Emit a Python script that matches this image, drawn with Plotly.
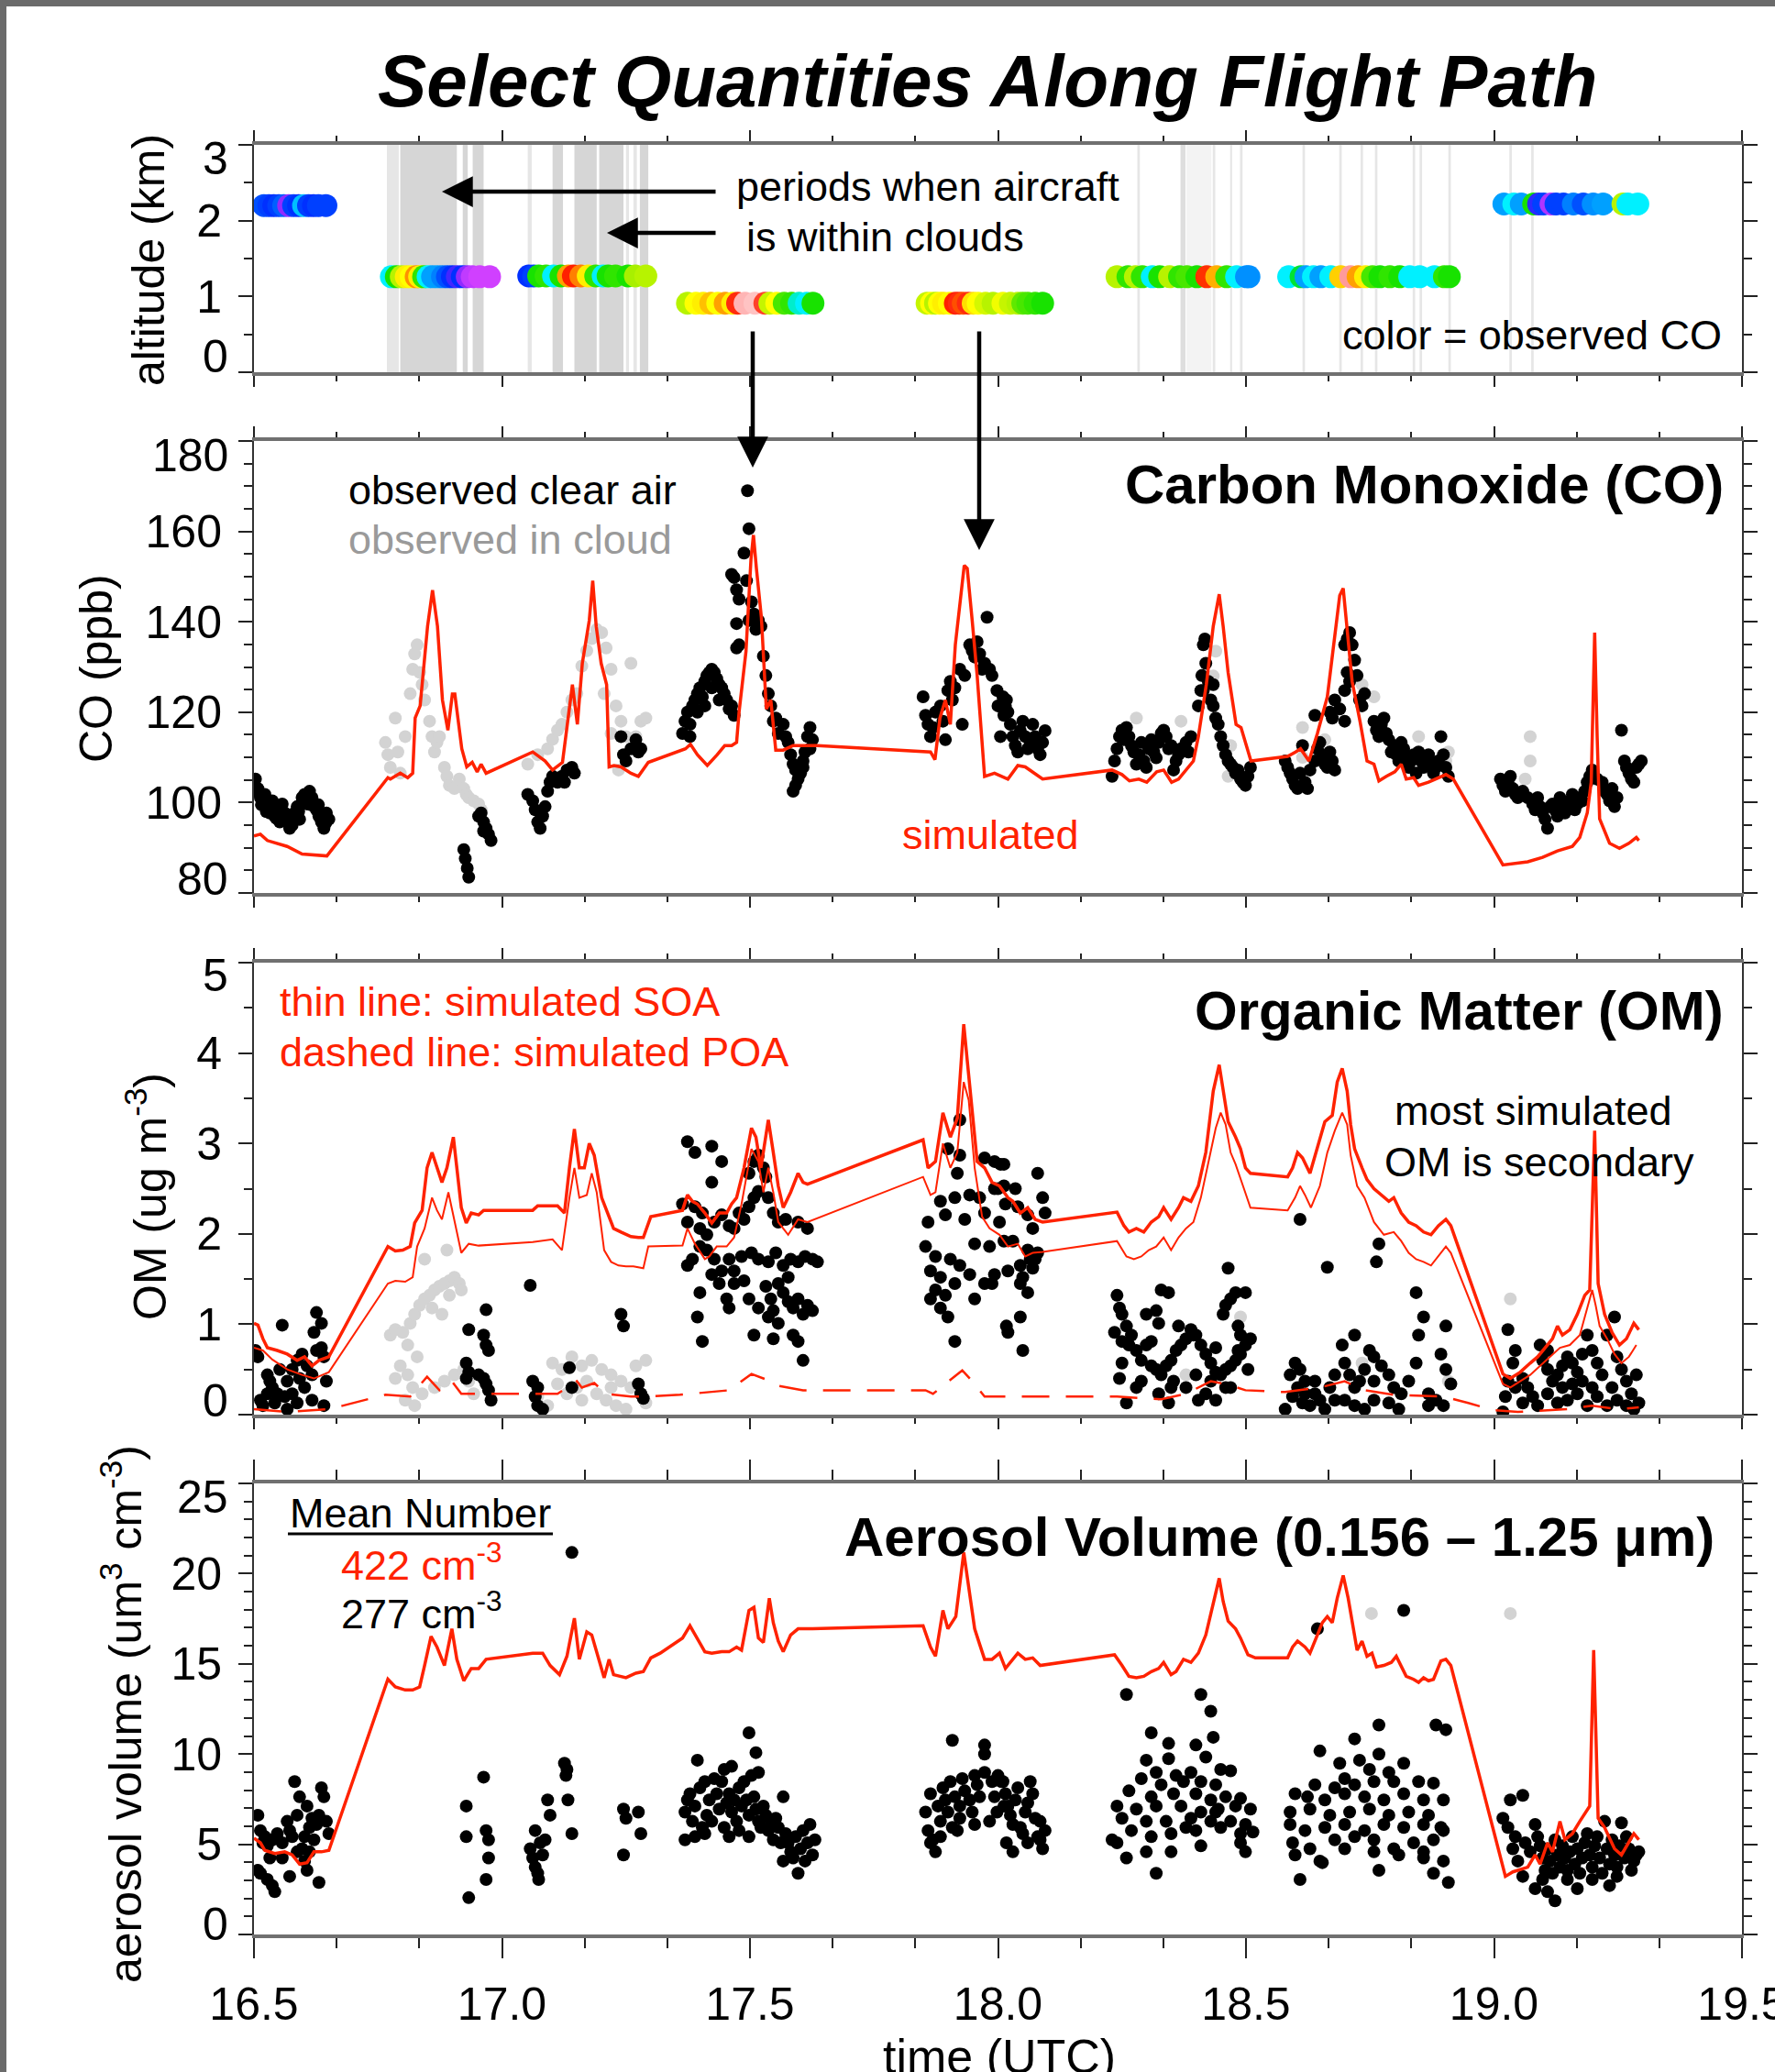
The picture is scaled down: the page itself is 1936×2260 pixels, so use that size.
import plotly.graph_objects as go

FIG_W, FIG_H = 1936, 2260
RED = '#ff2200'
GREY_PT = '#d3d3d3'
FONT = 'Liberation Sans, Arial, Helvetica, sans-serif'

# ---------------- DATA ----------------
# cloud periods (UTC hours) and fraction of the period spent in cloud
cloud_start = [16.768, 16.795, 16.921, 16.941, 17.052, 17.102, 17.146, 17.196, 17.250, 17.265, 17.278,
               18.281, 18.368, 18.380, 18.433, 18.468, 18.488, 18.614, 18.688, 18.731, 18.760, 18.836,
               18.850, 18.908, 19.031, 19.075]
cloud_end = [16.792, 16.909, 16.931, 16.963, 17.060, 17.123, 17.191, 17.245, 17.256, 17.272, 17.295,
             18.286, 18.378, 18.430, 18.438, 18.472, 18.493, 18.619, 18.693, 18.736, 18.765, 18.841,
             18.855, 18.913, 19.036, 19.080]
cloud_frac = [0.6, 1.0, 1.0, 1.0, 0.6, 1.0, 1.0, 1.0, 0.6, 0.6, 1.0,
              0.6, 0.8, 0.3, 0.6, 0.6, 0.6, 0.6, 0.6, 0.6, 0.6, 0.6,
              0.6, 0.6, 0.6, 0.6]

# flight track: (time, altitude km, observed CO ppb)
alt_obs = [
    (16.520, 2.2, 97), (16.530, 2.2, 96), (16.540, 2.2, 95), (16.550, 2.2, 96), (16.560, 2.2, 98), (16.570, 2.2, 88),
    (16.580, 2.2, 96), (16.590, 2.2, 95), (16.600, 2.2, 104), (16.610, 2.2, 96), (16.620, 2.2, 95), (16.630, 2.2, 96),
    (16.645, 2.2, 96),
    (16.777, 1.26, 107), (16.787, 1.26, 113), (16.797, 1.26, 120), (16.807, 1.26, 126), (16.817, 1.26, 125),
    (16.827, 1.26, 132), (16.834, 1.26, 126), (16.842, 1.26, 114), (16.851, 1.26, 107), (16.860, 1.26, 102),
    (16.870, 1.26, 102), (16.880, 1.26, 100), (16.890, 1.26, 97), (16.900, 1.26, 95), (16.910, 1.26, 92),
    (16.920, 1.26, 95), (16.930, 1.26, 88), (16.940, 1.26, 85), (16.955, 1.26, 84), (16.975, 1.26, 84),
    (17.054, 1.27, 95), (17.064, 1.27, 96), (17.074, 1.27, 113), (17.089, 1.27, 114), (17.104, 1.27, 107),
    (17.119, 1.27, 113), (17.134, 1.27, 131), (17.144, 1.27, 139), (17.159, 1.27, 133), (17.174, 1.27, 126),
    (17.189, 1.27, 114), (17.204, 1.27, 107), (17.214, 1.27, 113), (17.229, 1.27, 114), (17.254, 1.27, 113),
    (17.269, 1.27, 119), (17.290, 1.27, 120),
    (17.374, 0.91, 120), (17.391, 0.91, 125), (17.406, 0.91, 126), (17.421, 0.91, 129), (17.435, 0.91, 125),
    (17.450, 0.91, 131), (17.465, 0.91, 126), (17.475, 0.91, 140), (17.490, 0.91, 160), (17.510, 0.91, 165),
    (17.530, 0.91, 142), (17.540, 0.91, 121), (17.554, 0.91, 125), (17.569, 0.91, 115), (17.584, 0.91, 114),
    (17.599, 0.91, 108), (17.614, 0.91, 107), (17.627, 0.91, 113),
    (17.857, 0.91, 121), (17.866, 0.91, 125), (17.874, 0.91, 120), (17.882, 0.91, 125), (17.890, 0.91, 126),
    (17.902, 0.91, 125), (17.914, 0.91, 139), (17.922, 0.91, 140), (17.930, 0.91, 136), (17.940, 0.91, 140),
    (17.950, 0.91, 127), (17.960, 0.91, 125), (17.975, 0.91, 122), (17.990, 0.91, 120), (18.010, 0.91, 124),
    (18.025, 0.91, 121), (18.040, 0.91, 120), (18.050, 0.91, 116), (18.060, 0.91, 115), (18.075, 0.91, 114),
    (18.090, 0.91, 113),
    (18.240, 1.26, 120), (18.262, 1.26, 114), (18.277, 1.26, 120), (18.291, 1.26, 114), (18.311, 1.26, 107),
    (18.326, 1.26, 113), (18.346, 1.26, 120), (18.366, 1.26, 114), (18.381, 1.26, 115), (18.401, 1.26, 113),
    (18.421, 1.26, 138), (18.441, 1.26, 130), (18.461, 1.26, 114), (18.481, 1.26, 107), (18.501, 1.26, 101),
    (18.506, 1.26, 101),
    (18.586, 1.26, 107), (18.611, 1.26, 111), (18.621, 1.26, 102), (18.636, 1.26, 107), (18.651, 1.26, 102),
    (18.671, 1.26, 107), (18.691, 1.26, 128), (18.711, 1.26, 150), (18.726, 1.26, 131), (18.741, 1.26, 126),
    (18.755, 1.26, 115), (18.770, 1.26, 113), (18.790, 1.26, 114), (18.810, 1.26, 113), (18.830, 1.26, 107),
    (18.850, 1.26, 107), (18.880, 1.26, 107), (18.900, 1.26, 114), (18.910, 1.26, 113),
    (19.020, 2.22, 102), (19.040, 2.22, 107), (19.055, 2.22, 102), (19.080, 2.22, 113), (19.090, 2.22, 93),
    (19.100, 2.22, 96), (19.115, 2.22, 86), (19.125, 2.22, 96), (19.140, 2.22, 96), (19.160, 2.22, 100),
    (19.180, 2.22, 97), (19.200, 2.22, 101), (19.220, 2.22, 102), (19.260, 2.22, 120), (19.270, 2.22, 107),
    (19.290, 2.22, 107),
]

# CO observed in clear air (time, ppb)
co_obs = [
    (16.503, 105.2), (16.505, 102.5), (16.508, 103.1), (16.513, 101.1), (16.515, 99.5), (16.518, 100.1),
    (16.522, 101.8), (16.525, 98.0), (16.527, 99.1), (16.532, 97.7), (16.537, 100.4), (16.542, 97.0),
    (16.545, 96.5), (16.547, 98.4), (16.552, 95.7), (16.557, 99.7), (16.560, 96.0), (16.562, 97.7),
    (16.567, 96.3), (16.572, 94.3), (16.577, 95.0), (16.582, 97.7), (16.587, 99.1), (16.590, 98.0),
    (16.592, 96.3), (16.597, 101.1), (16.602, 101.8), (16.605, 100.5), (16.607, 99.7), (16.612, 102.5),
    (16.615, 99.5), (16.617, 101.1), (16.622, 99.1), (16.626, 98.4), (16.630, 99.5), (16.631, 97.0),
    (16.636, 95.7), (16.641, 94.3), (16.645, 95.5), (16.646, 97.7), (16.651, 96.3),
    (16.923, 89.6), (16.926, 87.6), (16.930, 85.5), (16.933, 83.5), (16.953, 97.0), (16.958, 97.7),
    (16.963, 95.7), (16.968, 94.3), (16.973, 93.0), (16.978, 91.6), (16.963, 93.7),
    (17.052, 101.8), (17.062, 100.4), (17.067, 98.4), (17.072, 95.7), (17.077, 94.3), (17.082, 97.0),
    (17.087, 99.1), (17.092, 102.5), (17.097, 104.5), (17.102, 105.8), (17.112, 104.5), (17.121, 105.8),
    (17.126, 104.5), (17.131, 107.2), (17.141, 107.8), (17.146, 106.5),
    (17.240, 114.6), (17.245, 110.6), (17.250, 109.2), (17.260, 111.9), (17.270, 113.9), (17.275, 111.2),
    (17.280, 111.9),
    (17.364, 115.3), (17.369, 118.0), (17.374, 120.0), (17.379, 117.3), (17.384, 121.4), (17.389, 122.7),
    (17.394, 124.1), (17.399, 125.4), (17.404, 123.4), (17.409, 126.8), (17.413, 128.1), (17.418, 128.8),
    (17.423, 129.5), (17.428, 128.8), (17.433, 127.4), (17.438, 126.1), (17.443, 125.4), (17.448, 124.1),
    (17.453, 122.7), (17.458, 120.7), (17.463, 121.4), (17.468, 119.3), (17.379, 114.6), (17.394, 120.0),
    (17.409, 121.4), (17.423, 125.4), (17.438, 122.7),
    (17.463, 150.5), (17.468, 149.8), (17.473, 147.1), (17.478, 145.0), (17.473, 139.6), (17.478, 134.9),
    (17.488, 155.2), (17.493, 149.1), (17.498, 160.6), (17.495, 169.0), (17.503, 144.4), (17.508, 141.7),
    (17.512, 138.3), (17.517, 140.3), (17.522, 139.0), (17.473, 134.2), (17.498, 140.3),
    (17.527, 132.4), (17.532, 128.1), (17.537, 124.1), (17.542, 121.4), (17.547, 118.0), (17.552, 118.7),
    (17.557, 115.3), (17.567, 117.3), (17.572, 114.6), (17.577, 113.3), (17.582, 110.6), (17.587, 108.5),
    (17.592, 107.2), (17.597, 105.2), (17.602, 106.5), (17.607, 107.8), (17.611, 111.2), (17.616, 114.6),
    (17.621, 116.6), (17.626, 113.9), (17.587, 102.5), (17.592, 103.8), (17.607, 109.2), (17.621, 111.9),
    (17.849, 123.4), (17.854, 119.3), (17.859, 117.3), (17.864, 114.6), (17.869, 116.6), (17.874, 120.0),
    (17.884, 121.4), (17.889, 118.0), (17.894, 113.9), (17.899, 124.8), (17.904, 126.8), (17.908, 122.7),
    (17.913, 125.4), (17.923, 129.5), (17.928, 117.3), (17.933, 128.1), (17.943, 134.9), (17.948, 133.6),
    (17.953, 132.2), (17.958, 135.6), (17.963, 132.9), (17.968, 129.5), (17.973, 130.8), (17.978, 141.0),
    (17.983, 129.5), (17.988, 128.1), (17.998, 124.8), (18.003, 121.4), (18.012, 119.3), (18.017, 122.7),
    (18.000, 121.4), (18.010, 123.4), (18.015, 121.4), (18.020, 120.0), (18.025, 117.3), (18.030, 114.6),
    (18.035, 112.6), (18.040, 111.2), (18.045, 115.9), (18.050, 118.0), (18.055, 114.6), (18.060, 111.9),
    (18.065, 113.3), (18.070, 117.3), (18.075, 114.6), (18.080, 111.9), (18.085, 110.6), (18.090, 113.3),
    (18.095, 115.9), (18.005, 114.6),
    (18.230, 105.8), (18.235, 109.2), (18.240, 111.9), (18.245, 114.6), (18.250, 116.0), (18.254, 113.9),
    (18.259, 116.6), (18.264, 114.6), (18.269, 112.6), (18.274, 111.2), (18.279, 108.5), (18.284, 110.6),
    (18.289, 113.3), (18.294, 109.2), (18.299, 107.8), (18.304, 111.9), (18.309, 113.9), (18.314, 111.2),
    (18.319, 109.9), (18.324, 113.3), (18.329, 115.3), (18.334, 116.0), (18.339, 114.6), (18.344, 111.9),
    (18.349, 112.6), (18.354, 107.2), (18.359, 109.2), (18.364, 110.6), (18.369, 111.9), (18.379, 113.3),
    (18.384, 111.2), (18.389, 114.6),
    (18.404, 121.4), (18.409, 124.8), (18.411, 128.1), (18.414, 134.9), (18.417, 136.2), (18.419, 130.8),
    (18.424, 126.8), (18.429, 122.7), (18.434, 121.4), (18.439, 118.7), (18.444, 117.3), (18.449, 114.6),
    (18.454, 112.6), (18.459, 110.6), (18.464, 109.2), (18.469, 108.5), (18.474, 107.8), (18.479, 106.5),
    (18.484, 107.2), (18.489, 105.2), (18.494, 104.5), (18.499, 103.8), (18.504, 105.8), (18.509, 107.8),
    (18.414, 124.8), (18.434, 126.1),
    (18.579, 109.2), (18.584, 107.8), (18.589, 106.5), (18.594, 105.2), (18.599, 103.8), (18.604, 103.1),
    (18.609, 106.5), (18.614, 112.6), (18.619, 104.5), (18.624, 103.1), (18.629, 107.2), (18.639, 109.2),
    (18.644, 111.9), (18.649, 113.3), (18.654, 110.6), (18.659, 108.5), (18.664, 107.8), (18.669, 111.2),
    (18.674, 109.2), (18.679, 107.2), (18.639, 119.3), (18.669, 120.0), (18.674, 118.7), (18.679, 122.7),
    (18.699, 134.9), (18.704, 136.2), (18.709, 137.6), (18.714, 134.9), (18.719, 131.5), (18.704, 128.8),
    (18.709, 126.8), (18.699, 124.8), (18.724, 128.1), (18.729, 122.7), (18.734, 121.4), (18.739, 124.1),
    (18.699, 118.0), (18.689, 120.7),
    (18.758, 118.0), (18.763, 116.0), (18.768, 114.6), (18.773, 117.3), (18.778, 118.7), (18.783, 115.3),
    (18.788, 113.9), (18.793, 111.2), (18.798, 112.6), (18.803, 110.6), (18.808, 109.2), (18.813, 113.3),
    (18.818, 111.9), (18.823, 109.9), (18.828, 107.8), (18.833, 109.2), (18.838, 110.6), (18.843, 106.5),
    (18.848, 111.2), (18.853, 109.2), (18.858, 107.8), (18.863, 109.9), (18.868, 110.6), (18.873, 108.5),
    (18.878, 106.5), (18.883, 107.8), (18.888, 109.2), (18.893, 114.6), (18.898, 110.6), (18.903, 107.8),
    (18.908, 105.8),
    (19.013, 105.2), (19.018, 103.8), (19.023, 102.5), (19.028, 104.5), (19.033, 105.8), (19.038, 103.1),
    (19.043, 101.8), (19.048, 101.1), (19.053, 101.8), (19.058, 102.5), (19.068, 101.1), (19.078, 99.7),
    (19.083, 98.4), (19.088, 101.1), (19.093, 99.1), (19.098, 97.7), (19.103, 96.3), (19.108, 94.3),
    (19.113, 99.1), (19.118, 99.7), (19.123, 98.4), (19.128, 97.0), (19.133, 101.1), (19.138, 99.7),
    (19.143, 97.7), (19.148, 99.1), (19.153, 100.4), (19.158, 101.8), (19.163, 98.4), (19.168, 99.7),
    (19.173, 101.1), (19.178, 100.4), (19.183, 102.5), (19.188, 104.5), (19.193, 105.8), (19.198, 107.2),
    (19.208, 105.2), (19.218, 104.5), (19.223, 102.5), (19.228, 101.8), (19.233, 100.4), (19.238, 103.1),
    (19.243, 99.1), (19.248, 101.1), (19.257, 116.0), (19.263, 109.2), (19.267, 107.8), (19.272, 106.5),
    (19.277, 105.2), (19.282, 104.5), (19.287, 107.8), (19.292, 108.5), (19.297, 109.2),
]

# CO observed in cloud
co_cld = [
    (16.765, 113.3), (16.770, 110.6), (16.775, 107.8), (16.785, 118.7), (16.790, 111.2), (16.795, 106.5),
    (16.805, 114.6), (16.815, 124.1), (16.820, 129.5), (16.824, 132.9), (16.829, 134.9), (16.834, 128.8),
    (16.839, 126.1), (16.844, 122.7), (16.854, 118.0), (16.859, 114.6), (16.864, 111.2), (16.869, 113.3),
    (16.874, 114.6), (16.884, 107.8), (16.889, 105.8), (16.894, 103.8), (16.904, 103.1), (16.914, 105.2),
    (16.923, 103.1), (16.928, 101.8), (16.933, 101.1), (16.943, 100.4), (16.953, 99.7), (16.958, 98.4),
    (17.052, 108.5), (17.072, 110.6), (17.092, 111.9), (17.102, 114.0), (17.112, 116.0), (17.121, 117.3),
    (17.131, 120.0), (17.141, 122.7), (17.151, 124.1), (17.161, 130.2), (17.171, 133.6), (17.181, 136.3),
    (17.191, 138.3), (17.201, 137.6), (17.210, 134.2), (17.220, 129.5), (17.230, 121.4), (17.240, 118.0),
    (17.250, 114.6), (17.260, 130.8), (17.270, 114.6), (17.280, 118.0), (17.290, 118.7), (17.206, 124.1),
    (17.220, 115.3), (17.235, 107.2),
    (18.279, 118.7), (18.369, 118.0), (18.614, 116.6), (18.659, 113.9), (18.469, 112.6), (18.464, 105.8),
    (19.073, 114.6), (19.073, 109.2), (19.063, 105.2), (18.758, 123.4), (18.734, 126.1), (18.848, 114.6),
    (18.908, 111.2), (18.903, 109.2), (18.614, 110.0), (18.439, 133.5), (18.434, 128.0),
]

# CO simulated
co_sim = [
    (16.500, 92.6), (16.513, 93.0), (16.527, 91.6), (16.567, 90.3), (16.597, 88.6), (16.647, 88.2),
    (16.770, 105.5), (16.775, 105.2), (16.795, 106.5), (16.810, 105.5), (16.820, 106.5), (16.825, 118.7),
    (16.835, 121.4), (16.850, 139.0), (16.860, 147.0), (16.870, 139.0), (16.880, 122.7), (16.891, 116.0),
    (16.900, 124.0), (16.905, 124.0), (16.919, 111.9), (16.929, 107.9), (16.940, 108.9), (16.950, 106.8),
    (16.958, 108.5), (16.968, 106.5),
    (17.062, 111.2), (17.087, 109.2), (17.102, 107.2), (17.122, 108.9), (17.142, 126.1), (17.152, 117.3),
    (17.162, 130.8), (17.176, 140.3), (17.183, 149.1), (17.190, 139.0), (17.200, 130.8), (17.211, 126.1),
    (17.216, 107.9), (17.226, 108.2), (17.240, 107.9), (17.260, 106.5), (17.275, 105.8), (17.295, 108.9),
    (17.370, 111.9), (17.380, 112.9), (17.394, 110.6), (17.414, 108.2), (17.434, 110.6), (17.449, 112.6),
    (17.463, 112.6), (17.473, 113.3), (17.478, 120.0), (17.492, 133.5), (17.502, 153.8), (17.507, 159.2),
    (17.513, 151.8), (17.523, 141.0), (17.533, 120.7), (17.542, 122.7), (17.552, 111.6), (17.567, 111.6),
    (17.587, 112.6), (17.636, 112.6),
    (17.864, 111.2), (17.873, 109.5), (17.883, 118.7), (17.894, 122.7), (17.904, 117.3), (17.914, 134.9),
    (17.932, 152.5), (17.938, 151.8), (17.948, 140.3), (17.958, 128.1), (17.973, 105.8), (17.993, 106.5),
    (18.020, 105.2), (18.040, 108.2), (18.055, 107.9), (18.070, 106.8), (18.090, 105.2),
    (18.230, 107.2), (18.250, 106.2), (18.265, 104.8), (18.284, 105.2), (18.300, 104.5), (18.320, 106.8),
    (18.334, 107.2), (18.350, 104.5), (18.364, 105.2), (18.380, 107.2), (18.394, 109.2), (18.404, 114.6),
    (18.420, 126.1), (18.434, 139.0), (18.446, 146.1), (18.454, 139.0), (18.464, 128.8), (18.480, 117.3),
    (18.490, 116.6), (18.510, 109.2),
    (18.584, 110.2), (18.600, 111.2), (18.610, 111.9), (18.627, 109.2), (18.644, 115.3), (18.664, 123.4),
    (18.679, 136.3), (18.689, 145.8), (18.696, 147.4), (18.704, 139.0), (18.714, 126.8), (18.730, 117.9),
    (18.744, 109.2), (18.758, 108.5), (18.768, 104.8), (18.783, 105.8), (18.800, 106.8), (18.813, 108.5),
    (18.823, 105.2), (18.838, 105.5), (18.848, 103.8), (18.868, 104.5), (18.888, 105.5), (18.903, 106.2),
    (18.918, 105.2),
    (19.018, 86.2), (19.068, 86.9), (19.098, 87.9), (19.128, 89.3), (19.158, 90.3), (19.173, 92.3),
    (19.188, 97.7), (19.196, 104.5), (19.203, 137.6), (19.208, 114.6), (19.213, 96.4), (19.233, 91.0),
    (19.253, 89.9), (19.272, 91.0), (19.287, 92.3), (19.292, 91.6),
]

# OM observed in clear air (ug m-3)
om_obs = [
    (16.557, 0.99), (16.626, 1.13), (16.636, 1.01), (16.621, 0.91), (16.508, 0.64), (16.527, 0.44),
    (16.532, 0.37), (16.537, 0.30), (16.547, 0.23), (16.513, 0.16), (16.518, 0.10), (16.542, 0.13),
    (16.562, 0.20), (16.567, 0.37), (16.577, 0.50), (16.587, 0.60), (16.597, 0.67), (16.607, 0.54),
    (16.617, 0.44), (16.626, 0.71), (16.636, 0.74), (16.641, 0.64), (16.646, 0.37), (16.641, 0.10),
    (16.587, 0.13), (16.567, 0.06), (16.602, 0.30), (16.617, 0.16), (16.527, 0.23), (16.552, 0.50),
    (16.577, 0.23), (16.592, 0.40), (16.503, 0.71),
    (16.928, 0.57), (16.933, 0.94), (16.928, 0.40), (16.933, 0.47), (16.953, 0.44), (16.963, 0.88),
    (16.968, 1.16), (16.968, 0.77), (16.973, 0.71), (16.963, 0.40), (16.968, 0.34), (16.973, 0.27),
    (16.978, 0.16), (17.057, 1.43), (17.062, 0.37), (17.072, 0.30), (17.067, 0.20), (17.072, 0.10),
    (17.082, 0.06), (17.136, 0.52), (17.141, 0.30), (17.240, 1.11), (17.245, 0.98), (17.275, 0.34),
    (17.280, 0.23), (17.285, 0.18),
    (17.374, 3.02), (17.389, 2.90), (17.423, 2.97), (17.443, 2.80), (17.423, 2.57), (17.364, 2.33),
    (17.389, 2.30), (17.404, 2.23), (17.374, 2.13), (17.399, 2.06), (17.413, 1.99), (17.428, 2.13),
    (17.443, 2.21), (17.458, 2.09), (17.478, 2.23), (17.468, 2.06), (17.488, 2.16), (17.498, 2.30),
    (17.508, 2.40), (17.517, 2.47), (17.532, 2.63), (17.537, 2.40), (17.547, 2.23), (17.557, 2.13),
    (17.572, 2.16), (17.597, 2.13), (17.616, 2.06), (17.508, 2.80), (17.517, 2.87), (17.527, 2.73),
    (17.498, 2.67), (17.374, 1.65), (17.384, 1.72), (17.399, 1.86), (17.413, 1.82), (17.428, 1.72),
    (17.443, 1.59), (17.458, 1.72), (17.468, 1.59), (17.483, 1.75), (17.503, 1.79), (17.517, 1.72),
    (17.537, 1.69), (17.552, 1.79), (17.567, 1.65), (17.582, 1.72), (17.597, 1.69), (17.611, 1.75),
    (17.626, 1.72), (17.636, 1.69), (17.399, 1.35), (17.394, 1.08), (17.404, 0.81), (17.423, 1.55),
    (17.438, 1.45), (17.453, 1.28), (17.458, 1.18), (17.468, 1.45), (17.488, 1.48), (17.498, 1.28),
    (17.508, 0.88), (17.532, 1.42), (17.542, 1.28), (17.547, 1.15), (17.557, 1.45), (17.567, 1.35),
    (17.577, 1.25), (17.587, 1.18), (17.597, 1.28), (17.607, 1.11), (17.616, 1.21), (17.626, 1.15),
    (17.537, 1.08), (17.557, 1.01), (17.587, 0.88), (17.597, 0.81), (17.607, 0.60), (17.547, 0.84),
    (17.577, 1.52), (17.517, 1.18),
    (17.923, 3.26), (17.899, 2.94), (17.923, 2.87), (17.973, 2.84), (17.993, 2.80), (18.012, 2.77),
    (17.918, 2.67), (17.884, 2.36), (17.913, 2.40), (17.943, 2.43), (17.963, 2.40), (17.993, 2.50),
    (18.012, 2.53), (17.859, 2.13), (17.894, 2.21), (17.933, 2.16), (17.973, 2.23), (18.003, 2.13),
    (17.854, 1.86), (17.874, 1.75), (17.904, 1.72), (17.923, 1.65), (17.953, 1.89), (17.983, 1.86),
    (18.012, 1.92), (17.864, 1.59), (17.884, 1.52), (17.913, 1.45), (17.943, 1.55), (17.973, 1.45),
    (17.993, 1.55), (17.874, 1.38), (17.894, 1.32), (17.864, 1.28), (17.884, 1.18), (17.899, 1.08),
    (17.913, 0.81), (18.017, 0.98), (17.953, 1.28), (17.988, 1.45),
    (18.005, 2.77), (18.000, 2.50), (18.035, 2.50), (18.015, 2.33), (18.040, 2.30), (18.080, 2.67),
    (18.090, 2.40), (18.095, 2.23), (18.060, 2.21), (18.070, 2.06), (18.030, 1.92), (18.060, 1.82),
    (18.065, 1.72), (18.045, 1.65), (18.070, 1.62), (18.020, 1.59), (18.050, 1.52), (18.045, 1.45),
    (18.060, 1.35), (18.045, 1.08), (18.020, 0.91), (18.050, 0.71), (18.075, 1.72), (18.080, 1.79),
    (18.464, 1.62), (18.609, 2.16), (18.664, 1.63), (18.768, 1.89), (18.763, 1.69), (18.843, 1.35),
    (18.858, 1.08), (18.903, 0.98), (18.848, 0.88),
    (18.240, 1.32), (18.245, 1.18), (18.250, 1.11), (18.259, 0.98), (18.235, 0.91), (18.250, 0.81),
    (18.264, 0.77), (18.279, 0.71), (18.289, 0.60), (18.299, 0.77), (18.309, 0.54), (18.319, 0.50),
    (18.329, 0.44), (18.339, 0.54), (18.349, 0.60), (18.359, 0.71), (18.369, 0.77), (18.379, 0.84),
    (18.389, 0.94), (18.399, 0.88), (18.409, 0.77), (18.419, 0.67), (18.429, 0.57), (18.439, 0.47),
    (18.449, 0.44), (18.459, 0.50), (18.469, 0.54), (18.479, 0.60), (18.489, 0.67), (18.499, 0.77),
    (18.509, 0.84), (18.329, 1.38), (18.344, 1.35), (18.299, 1.11), (18.319, 1.15), (18.324, 1.01),
    (18.364, 0.98), (18.394, 0.88), (18.459, 1.21), (18.469, 1.28), (18.479, 1.35), (18.499, 1.35),
    (18.454, 1.11), (18.484, 0.98), (18.489, 0.88), (18.504, 0.50), (18.245, 0.40), (18.259, 0.13),
    (18.279, 0.30), (18.344, 0.13), (18.379, 0.30), (18.404, 0.16), (18.439, 0.16), (18.469, 0.30),
    (18.250, 0.57), (18.289, 0.37), (18.324, 0.23), (18.354, 0.37), (18.399, 0.44), (18.429, 0.37),
    (18.459, 0.30), (18.419, 0.23), (18.269, 0.88), (18.439, 0.74), (18.484, 0.71), (18.349, 0.30),
    (18.309, 0.81),
    (18.599, 0.57), (18.609, 0.50), (18.589, 0.44), (18.619, 0.37), (18.604, 0.30), (18.594, 0.20),
    (18.614, 0.13), (18.629, 0.10), (18.639, 0.23), (18.649, 0.16), (18.659, 0.06), (18.679, 0.44),
    (18.694, 0.77), (18.719, 0.88), (18.699, 0.57), (18.709, 0.44), (18.729, 0.37), (18.739, 0.50),
    (18.749, 0.71), (18.758, 0.64), (18.773, 0.54), (18.788, 0.44), (18.798, 0.30), (18.813, 0.23),
    (18.828, 0.37), (18.843, 0.57), (18.868, 0.23), (18.883, 0.16), (18.893, 0.67), (18.903, 0.50),
    (18.913, 0.34), (18.619, 0.23), (18.669, 0.30), (18.699, 0.16), (18.719, 0.10), (18.758, 0.16),
    (18.788, 0.13), (18.808, 0.06), (18.868, 0.10), (18.898, 0.10), (18.579, 0.06), (18.639, 0.37),
    (18.758, 0.37), (18.719, 0.30), (18.679, 0.16), (18.739, 0.06),
    (19.028, 0.94), (19.043, 0.71), (19.038, 0.57), (19.028, 0.37), (19.043, 0.30), (19.023, 0.20),
    (19.058, 0.13), (19.078, 0.20), (19.093, 0.77), (19.098, 0.60), (19.108, 0.50), (19.118, 0.37),
    (19.128, 0.44), (19.138, 0.54), (19.148, 0.64), (19.158, 0.57), (19.168, 0.47), (19.178, 0.37),
    (19.188, 0.88), (19.198, 0.71), (19.208, 0.57), (19.218, 0.44), (19.228, 0.88), (19.243, 1.08),
    (19.248, 0.64), (19.257, 0.50), (19.267, 0.37), (19.277, 0.23), (19.287, 0.44), (19.292, 0.13),
    (19.068, 0.30), (19.088, 0.10), (19.108, 0.23), (19.128, 0.13), (19.148, 0.16), (19.168, 0.23),
    (19.188, 0.10), (19.208, 0.20), (19.228, 0.10), (19.248, 0.16), (19.267, 0.10), (19.282, 0.06),
    (19.138, 0.30), (19.198, 0.30), (19.238, 0.30), (19.158, 0.34), (19.058, 0.40), (19.108, 0.71),
    (19.018, 0.03), (19.178, 0.67),
]

# OM observed in cloud
om_cld = [
    (16.775, 0.88), (16.785, 0.94), (16.800, 0.91), (16.815, 1.01), (16.824, 1.11), (16.834, 1.21),
    (16.844, 1.28), (16.854, 1.32), (16.864, 1.38), (16.874, 1.42), (16.884, 1.45), (16.894, 1.48),
    (16.904, 1.52), (16.914, 1.45), (16.918, 1.38), (16.844, 1.72), (16.889, 1.82), (16.795, 0.54),
    (16.810, 0.44), (16.785, 0.40), (16.820, 0.30), (16.805, 0.16), (16.824, 0.10), (16.839, 0.23),
    (16.864, 0.30), (16.884, 0.37), (16.904, 0.44), (16.923, 0.50), (16.933, 0.37), (16.943, 0.23),
    (16.859, 1.18), (16.879, 1.11), (16.810, 0.77), (16.829, 0.64), (16.894, 1.32),
    (17.102, 0.57), (17.121, 0.50), (17.141, 0.64), (17.161, 0.54), (17.181, 0.60), (17.201, 0.50),
    (17.220, 0.44), (17.240, 0.37), (17.260, 0.30), (17.280, 0.23), (17.290, 0.13), (17.112, 0.34),
    (17.131, 0.23), (17.151, 0.30), (17.171, 0.37), (17.191, 0.23), (17.210, 0.16), (17.230, 0.10),
    (17.250, 0.06), (17.072, 0.20), (17.092, 0.10), (17.161, 0.16), (17.220, 0.30), (17.270, 0.54),
    (17.290, 0.60),
    (19.033, 1.28), (18.489, 1.08), (18.379, 0.44), (18.734, 0.57), (18.908, 0.37),
]

# OM simulated total
om_sim = [
    (16.500, 1.01), (16.508, 0.99), (16.518, 0.84), (16.527, 0.74), (16.547, 0.71), (16.567, 0.67),
    (16.587, 0.60), (16.602, 0.64), (16.617, 0.54), (16.631, 0.60), (16.651, 0.64), (16.770, 1.86),
    (16.785, 1.81), (16.800, 1.82), (16.815, 1.86), (16.824, 2.12), (16.839, 2.26), (16.849, 2.73),
    (16.859, 2.90), (16.869, 2.73), (16.879, 2.57), (16.889, 2.73), (16.902, 3.07), (16.909, 2.73),
    (16.918, 2.29), (16.928, 2.12), (16.938, 2.23), (16.953, 2.21), (16.963, 2.26), (17.062, 2.26),
    (17.072, 2.31), (17.112, 2.31), (17.126, 2.23), (17.136, 2.73), (17.146, 3.16), (17.156, 2.73),
    (17.166, 2.73), (17.176, 3.00), (17.186, 2.87), (17.201, 2.40), (17.216, 2.19), (17.225, 2.06),
    (17.240, 2.02), (17.250, 1.99), (17.260, 1.97), (17.275, 1.96), (17.285, 1.96), (17.300, 2.19),
    (17.319, 2.21), (17.364, 2.26), (17.374, 2.43), (17.384, 2.36), (17.394, 2.33), (17.409, 2.23),
    (17.423, 2.12), (17.438, 2.23), (17.453, 2.23), (17.463, 2.33), (17.473, 2.40), (17.488, 2.73),
    (17.503, 3.17), (17.512, 3.07), (17.522, 2.73), (17.537, 3.26), (17.547, 2.90), (17.557, 2.53),
    (17.567, 2.29), (17.582, 2.46), (17.597, 2.67), (17.607, 2.57), (17.616, 2.55), (17.849, 3.04),
    (17.859, 2.73), (17.874, 2.80), (17.889, 3.34), (17.904, 3.07), (17.918, 3.28), (17.931, 4.32),
    (17.938, 3.92), (17.948, 3.34), (17.958, 2.80), (17.973, 2.73), (17.988, 2.57), (18.003, 2.53),
    (18.020, 2.40), (18.030, 2.36), (18.045, 2.23), (18.060, 2.29), (18.075, 2.16), (18.090, 2.13),
    (18.240, 2.24), (18.254, 2.09), (18.264, 2.02), (18.279, 2.06), (18.294, 2.02), (18.309, 2.13),
    (18.324, 2.19), (18.334, 2.29), (18.349, 2.16), (18.364, 2.29), (18.374, 2.40), (18.389, 2.36),
    (18.404, 2.53), (18.419, 2.90), (18.434, 3.58), (18.446, 3.87), (18.454, 3.58), (18.464, 3.24),
    (18.479, 3.07), (18.489, 2.94), (18.499, 2.73), (18.509, 2.67), (18.584, 2.63), (18.594, 2.73),
    (18.604, 2.90), (18.614, 2.84), (18.629, 2.67), (18.644, 2.94), (18.659, 3.24), (18.674, 3.31),
    (18.684, 3.68), (18.694, 3.83), (18.704, 3.58), (18.711, 3.21), (18.719, 2.94), (18.734, 2.73),
    (18.744, 2.60), (18.758, 2.50), (18.773, 2.43), (18.788, 2.36), (18.798, 2.40), (18.813, 2.23),
    (18.828, 2.13), (18.843, 2.09), (18.858, 2.02), (18.873, 1.99), (18.888, 2.09), (18.903, 2.16),
    (18.913, 2.09), (19.018, 0.45), (19.033, 0.40), (19.053, 0.47), (19.073, 0.57), (19.088, 0.64),
    (19.103, 0.74), (19.118, 0.84), (19.128, 0.98), (19.138, 0.88), (19.153, 0.94), (19.168, 1.11),
    (19.183, 1.32), (19.193, 1.38), (19.203, 3.14), (19.210, 1.45), (19.223, 1.11), (19.238, 0.91),
    (19.253, 0.77), (19.267, 0.84), (19.282, 1.01), (19.292, 0.94),
]

# simulated SOA (thin line)
soa_sim = [
    (16.500, 0.74), (16.518, 0.71), (16.537, 0.61), (16.567, 0.50), (16.597, 0.44), (16.621, 0.40),
    (16.651, 0.47), (16.770, 1.45), (16.785, 1.48), (16.805, 1.47), (16.820, 1.52), (16.829, 1.86),
    (16.844, 2.06), (16.859, 2.40), (16.869, 2.26), (16.879, 2.16), (16.892, 2.46), (16.904, 2.16),
    (16.918, 1.79), (16.933, 1.89), (16.953, 1.87), (17.062, 1.91), (17.102, 1.94), (17.121, 1.82),
    (17.136, 2.40), (17.146, 2.73), (17.156, 2.40), (17.171, 2.43), (17.181, 2.67), (17.191, 2.46),
    (17.206, 1.82), (17.220, 1.69), (17.235, 1.65), (17.250, 1.64), (17.265, 1.64), (17.285, 1.62),
    (17.295, 1.86), (17.364, 1.87), (17.374, 2.06), (17.389, 1.89), (17.409, 1.72), (17.418, 1.75),
    (17.433, 1.86), (17.453, 1.86), (17.468, 1.96), (17.483, 2.33), (17.503, 2.94), (17.517, 2.80),
    (17.527, 2.46), (17.537, 2.73), (17.547, 2.46), (17.557, 2.13), (17.577, 1.99), (17.597, 2.16),
    (17.616, 2.13), (17.849, 2.63), (17.864, 2.43), (17.874, 2.46), (17.889, 3.00), (17.904, 2.73),
    (17.918, 2.90), (17.931, 3.68), (17.941, 3.48), (17.953, 2.73), (17.968, 2.19), (17.983, 2.06),
    (18.003, 1.99), (18.020, 1.86), (18.040, 1.89), (18.055, 1.75), (18.070, 1.79), (18.090, 1.80),
    (18.240, 1.92), (18.259, 1.75), (18.274, 1.72), (18.289, 1.75), (18.304, 1.82), (18.319, 1.86),
    (18.334, 1.96), (18.349, 1.82), (18.364, 1.96), (18.379, 2.06), (18.394, 2.13), (18.409, 2.40),
    (18.424, 2.77), (18.439, 3.17), (18.449, 3.34), (18.459, 3.21), (18.469, 2.90), (18.479, 2.77),
    (18.494, 2.53), (18.509, 2.29), (18.584, 2.26), (18.599, 2.40), (18.609, 2.53), (18.619, 2.43),
    (18.631, 2.29), (18.649, 2.53), (18.664, 2.90), (18.679, 3.14), (18.694, 3.34), (18.704, 3.21),
    (18.711, 2.87), (18.724, 2.53), (18.739, 2.40), (18.758, 2.13), (18.778, 1.99), (18.798, 2.02),
    (18.813, 1.92), (18.828, 1.79), (18.843, 1.72), (18.858, 1.69), (18.873, 1.65), (18.888, 1.75),
    (18.903, 1.86), (18.913, 1.79), (19.018, 0.34), (19.033, 0.30), (19.053, 0.37), (19.073, 0.44),
    (19.093, 0.54), (19.113, 0.64), (19.133, 0.74), (19.153, 0.77), (19.173, 0.88), (19.188, 1.18),
    (19.198, 1.38), (19.205, 1.21), (19.213, 0.98), (19.228, 0.84), (19.243, 0.67), (19.257, 0.57),
    (19.272, 0.64), (19.287, 0.77),
]

# simulated POA (dashed line)
poa_sim = [
    (16.500, 0.06), (16.567, 0.03), (16.651, 0.06), (16.765, 0.22), (16.815, 0.20), (16.849, 0.42),
    (16.874, 0.27), (16.899, 0.37), (16.918, 0.23), (16.963, 0.23), (17.112, 0.23), (17.151, 0.37),
    (17.161, 0.30), (17.186, 0.35), (17.210, 0.23), (17.260, 0.20), (17.290, 0.20), (17.359, 0.22),
    (17.458, 0.27), (17.503, 0.45), (17.537, 0.38), (17.557, 0.32), (17.607, 0.27), (17.854, 0.27),
    (17.869, 0.23), (17.894, 0.34), (17.928, 0.49), (17.948, 0.37), (17.973, 0.20), (18.020, 0.20),
    (18.080, 0.20), (18.240, 0.20), (18.329, 0.17), (18.379, 0.23), (18.429, 0.37), (18.459, 0.34),
    (18.499, 0.27), (18.579, 0.25), (18.649, 0.30), (18.699, 0.37), (18.739, 0.27), (18.798, 0.22),
    (18.898, 0.20), (18.948, 0.13), (18.998, 0.05), (19.048, 0.03), (19.148, 0.06), (19.198, 0.10),
    (19.248, 0.06), (19.292, 0.08),
]

# aerosol volume observed (um3 cm-3)
vol_obs = [
    (16.508, 6.61), (16.513, 5.76), (16.518, 5.08), (16.522, 5.42), (16.527, 4.91), (16.537, 5.25),
    (16.547, 5.59), (16.557, 5.08), (16.567, 6.27), (16.572, 5.76), (16.577, 5.42), (16.582, 8.47),
    (16.587, 6.61), (16.592, 7.63), (16.597, 4.75), (16.602, 5.42), (16.607, 7.12), (16.612, 5.93),
    (16.617, 6.44), (16.621, 5.25), (16.626, 6.10), (16.631, 6.61), (16.636, 8.13), (16.641, 7.63),
    (16.646, 6.27), (16.651, 5.59), (16.508, 3.56), (16.513, 3.39), (16.527, 3.05), (16.537, 2.71),
    (16.542, 2.37), (16.572, 3.22), (16.602, 4.07), (16.612, 4.58), (16.631, 2.88), (16.607, 3.56),
    (16.557, 4.24), (16.532, 4.24), (16.587, 4.58),
    (16.928, 7.12), (16.928, 5.42), (16.933, 2.04), (16.963, 8.72), (16.968, 5.76), (16.973, 5.25),
    (16.973, 4.24), (16.968, 3.05),
    (17.057, 4.75), (17.062, 4.24), (17.067, 3.73), (17.072, 3.39), (17.074, 3.05), (17.067, 5.76),
    (17.077, 5.08), (17.087, 5.25), (17.092, 7.46), (17.097, 6.61), (17.082, 4.41), (17.126, 9.49),
    (17.131, 9.15), (17.129, 8.81), (17.133, 7.46), (17.141, 5.59),
    (17.245, 4.41), (17.245, 6.95), (17.250, 6.44), (17.275, 6.78), (17.280, 5.59), (17.141, 21.17),
    (17.394, 9.66), (17.498, 11.18), (17.512, 10.08), (17.369, 6.78), (17.374, 7.46), (17.379, 7.80),
    (17.384, 6.27), (17.389, 7.12), (17.399, 8.13), (17.404, 5.93), (17.409, 8.47), (17.413, 6.61),
    (17.418, 7.46), (17.423, 6.27), (17.428, 8.64), (17.433, 7.80), (17.438, 6.95), (17.443, 8.47),
    (17.448, 9.15), (17.453, 7.29), (17.458, 7.80), (17.463, 6.78), (17.468, 7.46), (17.473, 6.27),
    (17.478, 8.13), (17.483, 7.12), (17.488, 8.47), (17.493, 7.46), (17.498, 6.61), (17.503, 8.81),
    (17.508, 7.63), (17.512, 6.95), (17.517, 6.27), (17.522, 5.93), (17.527, 7.12), (17.532, 6.61),
    (17.537, 5.76), (17.542, 6.27), (17.547, 5.25), (17.552, 6.44), (17.557, 5.93), (17.562, 5.08),
    (17.567, 7.63), (17.572, 5.59), (17.577, 5.08), (17.582, 4.58), (17.587, 4.24), (17.592, 5.42),
    (17.597, 3.39), (17.602, 4.75), (17.607, 5.76), (17.611, 4.07), (17.616, 5.08), (17.621, 6.10),
    (17.626, 4.41), (17.631, 5.25), (17.369, 5.25), (17.389, 5.42), (17.409, 5.59), (17.448, 5.93),
    (17.478, 5.76), (17.498, 5.42), (17.517, 8.98), (17.463, 9.32), (17.458, 5.42), (17.567, 4.07),
    (17.908, 10.76), (17.973, 10.50), (17.973, 10.00), (17.854, 6.78), (17.859, 5.76), (17.864, 7.80),
    (17.869, 5.25), (17.874, 4.58), (17.879, 7.12), (17.884, 6.27), (17.889, 8.13), (17.894, 7.46),
    (17.899, 6.78), (17.904, 8.47), (17.908, 5.93), (17.913, 7.63), (17.918, 5.76), (17.923, 7.12),
    (17.928, 8.64), (17.933, 7.96), (17.943, 7.46), (17.948, 6.78), (17.953, 8.81), (17.958, 8.30),
    (17.963, 7.63), (17.973, 8.98), (17.983, 6.27), (17.988, 8.47), (17.993, 7.63), (17.998, 6.78),
    (18.007, 8.47), (18.012, 7.12), (18.017, 5.08), (17.923, 6.44), (17.953, 6.10), (17.884, 5.42),
    (17.864, 5.08),
    (18.000, 8.81), (18.010, 8.47), (18.015, 7.80), (18.020, 7.12), (18.025, 6.61), (18.030, 6.10),
    (18.035, 7.46), (18.040, 8.13), (18.045, 5.93), (18.050, 5.59), (18.055, 6.78), (18.060, 7.29),
    (18.065, 8.47), (18.070, 7.80), (18.075, 6.44), (18.080, 5.42), (18.085, 6.27), (18.090, 4.75),
    (18.095, 5.76), (18.030, 4.58), (18.060, 5.08), (18.085, 5.25),
    (18.259, 13.30), (18.409, 13.30), (18.429, 12.37), (18.309, 11.18), (18.344, 10.59), (18.399, 10.50),
    (18.434, 10.93), (18.299, 9.66), (18.344, 9.74), (18.419, 9.83), (18.319, 8.98), (18.359, 8.81),
    (18.389, 8.98), (18.449, 9.15), (18.469, 9.07), (18.289, 8.64), (18.329, 8.30), (18.374, 8.47),
    (18.409, 8.47), (18.439, 8.30), (18.264, 7.96), (18.309, 7.63), (18.354, 7.80), (18.399, 7.80),
    (18.429, 7.46), (18.459, 7.63), (18.489, 7.54), (18.240, 7.12), (18.279, 6.95), (18.319, 7.12),
    (18.369, 7.12), (18.409, 6.78), (18.444, 6.95), (18.479, 7.12), (18.509, 6.95), (18.250, 6.44),
    (18.299, 6.27), (18.339, 6.27), (18.389, 6.44), (18.429, 6.27), (18.469, 6.27), (18.499, 6.10),
    (18.230, 5.25), (18.269, 5.76), (18.309, 5.42), (18.349, 5.59), (18.399, 5.76), (18.449, 5.93),
    (18.489, 5.59), (18.514, 5.68), (18.259, 4.24), (18.299, 4.58), (18.349, 4.58), (18.409, 4.91),
    (18.489, 5.08), (18.499, 4.58), (18.319, 3.39), (18.240, 5.08), (18.439, 6.78), (18.379, 5.93),
    (18.649, 10.17), (18.719, 10.84), (18.768, 11.61), (18.883, 11.61), (18.903, 11.35), (18.689, 9.49),
    (18.729, 9.66), (18.768, 10.00), (18.818, 9.49), (18.699, 8.64), (18.749, 9.15), (18.788, 8.98),
    (18.639, 8.30), (18.679, 8.13), (18.719, 8.30), (18.758, 8.47), (18.798, 8.47), (18.848, 8.47),
    (18.878, 8.39), (18.599, 7.80), (18.624, 7.63), (18.659, 7.46), (18.699, 7.80), (18.739, 7.63),
    (18.778, 7.46), (18.818, 7.80), (18.858, 7.46), (18.898, 7.46), (18.589, 6.78), (18.629, 6.95),
    (18.669, 6.61), (18.709, 6.78), (18.749, 6.95), (18.788, 6.61), (18.828, 6.78), (18.868, 6.61),
    (18.589, 6.10), (18.619, 5.76), (18.659, 5.93), (18.699, 6.10), (18.739, 5.76), (18.778, 6.10),
    (18.818, 5.93), (18.858, 6.10), (18.898, 5.76), (18.594, 5.08), (18.629, 4.75), (18.679, 5.25),
    (18.719, 5.42), (18.758, 5.25), (18.798, 4.75), (18.838, 5.08), (18.878, 5.25), (18.599, 4.41),
    (18.649, 4.07), (18.699, 4.75), (18.758, 4.58), (18.808, 4.41), (18.858, 4.24), (18.898, 4.07),
    (18.609, 3.05), (18.654, 3.98), (18.768, 3.56), (18.878, 3.39), (18.908, 2.88), (18.858, 4.58),
    (18.893, 5.93), (18.818, 17.96), (18.644, 16.94),
    (19.033, 7.46), (19.058, 7.71), (19.018, 6.44), (19.028, 5.93), (19.043, 5.42), (19.038, 4.75),
    (19.048, 4.07), (19.063, 5.08), (19.073, 4.58), (19.083, 6.10), (19.088, 5.42), (19.093, 4.91),
    (19.098, 4.24), (19.103, 3.56), (19.108, 4.75), (19.113, 4.07), (19.118, 3.39), (19.123, 5.25),
    (19.128, 4.41), (19.133, 3.73), (19.138, 4.91), (19.143, 4.24), (19.148, 3.56), (19.153, 4.58),
    (19.158, 5.42), (19.163, 3.90), (19.168, 4.75), (19.173, 3.39), (19.178, 4.24), (19.183, 5.08),
    (19.188, 5.59), (19.193, 4.41), (19.198, 3.73), (19.203, 4.91), (19.208, 5.42), (19.213, 4.24),
    (19.218, 3.39), (19.223, 6.27), (19.228, 4.75), (19.233, 3.90), (19.238, 5.25), (19.243, 4.41),
    (19.248, 3.73), (19.253, 4.91), (19.257, 6.19), (19.263, 4.24), (19.267, 5.42), (19.272, 4.75),
    (19.277, 3.56), (19.282, 4.07), (19.287, 4.41), (19.292, 4.58), (19.083, 2.54), (19.108, 2.37),
    (19.123, 1.87), (19.168, 2.54), (19.233, 2.71), (19.248, 3.22), (19.098, 3.05), (19.148, 3.05),
    (19.058, 3.22), (19.198, 3.05),
]

vol_cld = [(18.753, 17.79), (19.033, 17.79)]

# aerosol volume simulated
vol_sim = [
    (16.500, 5.34), (16.513, 5.08), (16.522, 4.66), (16.542, 4.49), (16.562, 4.58), (16.577, 4.41),
    (16.592, 3.90), (16.607, 3.98), (16.621, 4.58), (16.636, 4.58), (16.651, 4.66), (16.770, 14.15),
    (16.785, 13.72), (16.805, 13.55), (16.820, 13.55), (16.834, 13.72), (16.844, 14.91), (16.857, 16.52),
    (16.869, 15.93), (16.884, 14.91), (16.899, 16.94), (16.909, 15.25), (16.923, 14.06), (16.938, 14.74),
    (16.953, 14.74), (16.968, 15.25), (17.062, 15.59), (17.082, 15.59), (17.097, 14.91), (17.116, 14.40),
    (17.131, 15.42), (17.146, 17.53), (17.156, 15.25), (17.171, 16.77), (17.181, 16.60), (17.196, 15.08),
    (17.206, 14.23), (17.216, 15.25), (17.225, 14.40), (17.250, 14.23), (17.270, 14.48), (17.285, 14.57),
    (17.300, 15.33), (17.319, 15.59), (17.364, 16.43), (17.379, 17.11), (17.394, 16.43), (17.409, 15.67),
    (17.423, 15.59), (17.443, 15.67), (17.458, 15.67), (17.473, 15.93), (17.483, 15.76), (17.498, 17.96),
    (17.508, 18.13), (17.517, 16.43), (17.527, 16.18), (17.539, 18.64), (17.547, 17.28), (17.557, 16.26),
    (17.567, 15.67), (17.582, 16.60), (17.597, 16.94), (17.626, 16.94), (17.849, 17.11), (17.864, 15.93),
    (17.874, 15.42), (17.889, 17.96), (17.899, 16.94), (17.915, 17.62), (17.931, 21.17), (17.943, 18.80),
    (17.953, 16.94), (17.963, 16.09), (17.973, 15.25), (17.988, 15.25), (18.003, 15.59), (18.015, 14.74),
    (18.030, 15.25), (18.040, 15.59), (18.055, 15.25), (18.070, 15.33), (18.085, 14.91), (18.235, 15.50),
    (18.250, 14.91), (18.264, 14.31), (18.279, 14.23), (18.294, 14.31), (18.309, 14.57), (18.324, 14.74),
    (18.334, 15.08), (18.349, 14.40), (18.359, 14.57), (18.374, 15.25), (18.389, 15.08), (18.404, 15.59),
    (18.419, 16.60), (18.434, 18.30), (18.446, 19.74), (18.454, 18.46), (18.464, 17.37), (18.479, 16.94),
    (18.489, 16.43), (18.504, 15.50), (18.519, 15.33), (18.584, 15.33), (18.594, 15.93), (18.604, 16.26),
    (18.619, 15.93), (18.629, 15.59), (18.639, 16.26), (18.654, 17.28), (18.664, 17.62), (18.674, 17.28),
    (18.684, 18.64), (18.696, 19.90), (18.706, 18.64), (18.714, 17.45), (18.724, 15.76), (18.734, 16.26),
    (18.744, 15.42), (18.754, 15.59), (18.763, 14.83), (18.778, 14.91), (18.793, 15.08), (18.803, 15.42),
    (18.813, 14.91), (18.823, 14.31), (18.838, 14.14), (18.848, 13.97), (18.858, 14.23), (18.868, 14.06),
    (18.878, 14.14), (18.893, 15.16), (18.903, 15.25), (18.913, 14.91), (19.023, 3.22), (19.038, 3.47),
    (19.068, 3.73), (19.083, 4.41), (19.093, 3.90), (19.108, 5.08), (19.118, 4.58), (19.133, 6.27),
    (19.143, 5.25), (19.158, 5.59), (19.173, 6.27), (19.193, 7.12), (19.201, 15.76), (19.210, 6.44),
    (19.223, 5.93), (19.243, 4.75), (19.257, 4.41), (19.272, 5.08), (19.282, 5.59), (19.292, 5.25),
]

x_tick_vals = [16.5, 17.0, 17.5, 18.0, 18.5, 19.0, 19.5]
alt_tick_vals = [0, 1, 2, 3]
co_tick_vals = [80, 100, 120, 140, 160, 180]
om_tick_vals = [0, 1, 2, 3, 4, 5]
vol_tick_vals = [0, 5, 10, 15, 20, 25]

# CO colour scale for the flight-track markers
co_color_stops = [84, 90, 95, 101, 107, 112, 119, 125, 131, 139, 150, 170]
co_color_list = ['#d040ff', '#7020ff', '#0030ff', '#0090ff', '#00f0ff', '#00e000',
                 '#a8f000', '#ffff00', '#ffa000', '#ff2000', '#ff9a9a', '#ffd0d0']

# ---------------- FIGURE ----------------
def cols(pairs):
    return [p[0] for p in pairs], [p[1] for p in pairs]

cmin, cmax = co_color_stops[0], co_color_stops[-1]
colorscale = [[(v - cmin) / (cmax - cmin), c] for v, c in zip(co_color_stops, co_color_list)]

fig = go.Figure()

# panel 1 : flight track
at = [p[0] for p in alt_obs]
ak = [p[1] for p in alt_obs]
ac = [p[2] for p in alt_obs]
fig.add_trace(go.Scatter(x=at, y=ak, mode='markers', xaxis='x', yaxis='y',
                         marker=dict(size=25, color=ac, colorscale=colorscale, cmin=cmin, cmax=cmax,
                                     line=dict(width=0)), hoverinfo='skip'))

# panel 2 : CO
x, y = cols(co_cld)
fig.add_trace(go.Scatter(x=x, y=y, mode='markers', xaxis='x2', yaxis='y2',
                         marker=dict(size=14, color=GREY_PT), hoverinfo='skip'))
x, y = cols(co_obs)
fig.add_trace(go.Scatter(x=x, y=y, mode='markers', xaxis='x2', yaxis='y2',
                         marker=dict(size=14, color='black'), hoverinfo='skip'))
x, y = cols(co_sim)
fig.add_trace(go.Scatter(x=x, y=y, mode='lines', xaxis='x2', yaxis='y2',
                         line=dict(color=RED, width=3.5), hoverinfo='skip'))

# panel 3 : OM
x, y = cols(om_cld)
fig.add_trace(go.Scatter(x=x, y=y, mode='markers', xaxis='x3', yaxis='y3',
                         marker=dict(size=14, color=GREY_PT), hoverinfo='skip'))
x, y = cols(om_obs)
fig.add_trace(go.Scatter(x=x, y=y, mode='markers', xaxis='x3', yaxis='y3',
                         marker=dict(size=14, color='black'), hoverinfo='skip'))
x, y = cols(poa_sim)
fig.add_trace(go.Scatter(x=x, y=y, mode='lines', xaxis='x3', yaxis='y3',
                         line=dict(color=RED, width=2.5, dash='30px,18px'), hoverinfo='skip'))
x, y = cols(soa_sim)
fig.add_trace(go.Scatter(x=x, y=y, mode='lines', xaxis='x3', yaxis='y3',
                         line=dict(color=RED, width=2), hoverinfo='skip'))
x, y = cols(om_sim)
fig.add_trace(go.Scatter(x=x, y=y, mode='lines', xaxis='x3', yaxis='y3',
                         line=dict(color=RED, width=3.5), hoverinfo='skip'))

# panel 4 : aerosol volume
x, y = cols(vol_cld)
fig.add_trace(go.Scatter(x=x, y=y, mode='markers', xaxis='x4', yaxis='y4',
                         marker=dict(size=14, color=GREY_PT), hoverinfo='skip'))
x, y = cols(vol_obs)
fig.add_trace(go.Scatter(x=x, y=y, mode='markers', xaxis='x4', yaxis='y4',
                         marker=dict(size=14, color='black'), hoverinfo='skip'))
x, y = cols(vol_sim)
fig.add_trace(go.Scatter(x=x, y=y, mode='lines', xaxis='x4', yaxis='y4',
                         line=dict(color=RED, width=3.5), hoverinfo='skip'))

# ---------------- LAYOUT ----------------
def fx(px):
    return px / FIG_W

def fy(py):
    return 1 - py / FIG_H

XDOM = [fx(277), fx(1900)]
panels = [(158, 406), (481, 974), (1050, 1543), (1618, 2110)]
yranges = [[0, 3], [80, 180], [0, 5], [0, 25]]
ytickvals = [alt_tick_vals, co_tick_vals, om_tick_vals, vol_tick_vals]
yminor = [0.5, 5, 0.5, 1]
# end labels are nudged inwards (px) as in the original figure
end_shift = [(17, -15), (15, -16), (15, -14), (11, -15)]

layout = dict(width=FIG_W, height=FIG_H, autosize=False,
              margin=dict(l=0, r=0, t=0, b=0, pad=0, autoexpand=False),
              paper_bgcolor='white', plot_bgcolor='white', showlegend=False,
              font=dict(family=FONT, color='black'))

ann = []

for i in range(4):
    n = '' if i == 0 else str(i + 1)
    bottom = (i == 3)
    top_px, bot_px = panels[i]
    tv = ytickvals[i]
    layout['xaxis' + n] = dict(
        domain=XDOM, range=[16.5, 19.5], anchor='y' + n, automargin=False,
        showline=True, linecolor='#707070', linewidth=4, mirror='ticks',
        ticks='outside', ticklen=22 if bottom else 12, tickwidth=2, tickcolor='#222',
        tickmode='array', tickvals=x_tick_vals,
        minor=dict(ticks='outside', tickmode='linear', tick0=16.5, dtick=1 / 6,
                   ticklen=11 if bottom else 6, tickwidth=2, tickcolor='#222'),
        showgrid=False, zeroline=False, showticklabels=bottom, tickformat='.1f',
        tickfont=dict(size=50, color='black', family=FONT), ticklabelstandoff=7,
        ticklabeloverflow='allow', fixedrange=True)
    layout['yaxis' + n] = dict(
        domain=[fy(bot_px), fy(top_px)], range=yranges[i], anchor='x' + n, automargin=False,
        showline=True, linecolor='#333', linewidth=2, mirror='ticks',
        ticks='outside', ticklen=15, tickwidth=2, tickcolor='#222',
        tickmode='array', tickvals=tv,
        ticktext=[''] + [str(v) for v in tv[1:-1]] + [''],
        minor=dict(ticks='outside', tickmode='linear', tick0=yranges[i][0], dtick=yminor[i],
                   ticklen=9, tickwidth=2, tickcolor='#222'),
        showgrid=False, zeroline=False,
        tickfont=dict(size=50, color='black', family=FONT), ticklabelstandoff=8,
        fixedrange=True)
    for v, sh in ((tv[0], end_shift[i][0]), (tv[-1], end_shift[i][1])):
        ann.append(dict(text=str(v), x=fx(251), y=v, xref='paper', yref='y' + n,
                        xanchor='right', yanchor='middle', yshift=sh, showarrow=False,
                        font=dict(size=50, color='black', family=FONT)))

shapes = []
for s, e, f in zip(cloud_start, cloud_end, cloud_frac):
    shapes.append(dict(type='rect', xref='x', yref='y domain', x0=s, x1=e, y0=0, y1=1,
                       fillcolor='#c8c8c8', opacity=0.75 * f,
                       line=dict(width=0), layer='below'))
# outer screenshot frame
shapes.append(dict(type='rect', xref='paper', yref='paper', x0=0, x1=fx(7), y0=0, y1=1,
                   fillcolor='#6b6b6b', line=dict(width=0)))
shapes.append(dict(type='rect', xref='paper', yref='paper', x0=0, x1=1, y0=fy(7), y1=1,
                   fillcolor='#6b6b6b', line=dict(width=0)))
# underline of "Mean Number"
shapes.append(dict(type='line', xref='paper', yref='paper', x0=fx(314), x1=fx(603),
                   y0=fy(1673), y1=fy(1673), line=dict(color='black', width=3)))
layout['shapes'] = shapes


def txt(text, px, py, size=45, color='black', xanchor='left', angle=0):
    ann.append(dict(text=text, x=fx(px), y=fy(py), xref='paper', yref='paper',
                    xanchor=xanchor, yanchor='middle', showarrow=False, textangle=angle,
                    font=dict(size=size, color=color, family=FONT)))

txt('<b><i>Select Quantities Along Flight Path</i></b>', 1077, 89, size=80, xanchor='center')
txt('periods when aircraft', 801, 204)
txt('is within clouds', 812, 259)
txt('color = observed CO', 1880, 366, xanchor='right')
txt('observed clear air', 378, 534)
txt('observed in cloud', 378, 589, color='#9a9a9a')
txt('simulated', 982, 911, color=RED)
txt('<b>Carbon Monoxide (CO)</b>', 1882, 529, size=60, xanchor='right')
txt('thin line: simulated SOA', 303, 1092, color=RED)
txt('dashed line: simulated POA', 303, 1147, color=RED)
txt('<b>Organic Matter (OM)</b>', 1882, 1102, size=60, xanchor='right')
txt('most simulated', 1672, 1211, xanchor='center')
txt('OM is secondary', 1679, 1267, xanchor='center')
txt('Mean Number', 314, 1650)
txt('422 cm<sup>-3</sup>', 370, 1704, color=RED)
txt('277 cm<sup>-3</sup>', 370, 1757)
txt('<b>Aerosol Volume (0.156 \u2013 1.25 \u03bcm)</b>', 1872, 1676, size=60, xanchor='right')
# axis titles
txt('altitude (km)', 162, 284, size=50, xanchor='center', angle=-90)
txt('CO (ppb)', 105, 729, size=50, xanchor='center', angle=-90)
txt('OM (ug m<sup>-3</sup>)', 160, 1305, size=50, xanchor='center', angle=-90)
txt('aerosol volume (um<sup>3</sup> cm<sup>-3</sup>)', 133, 1870, size=50, xanchor='center', angle=-90)
txt('time (UTC)', 1090, 2243, size=52, xanchor='center')

def arrow(hx, hy, tx, ty):
    ann.append(dict(text='', x=fx(hx), y=fy(hy), xref='paper', yref='paper',
                    ax=tx - hx, ay=ty - hy, axref='pixel', ayref='pixel',
                    showarrow=True, arrowhead=2, arrowsize=1.5, arrowwidth=4.5,
                    arrowcolor='black', standoff=0))

arrow(482, 209, 782, 209)
arrow(662, 254, 782, 254)
arrow(821, 510, 821, 360)
arrow(1068, 600, 1068, 360)
layout['annotations'] = ann

fig.update_layout(**layout)

fig.write_html("out.html", config={'displayModeBar': False},
               post_script="document.body.style.margin='0px';document.body.style.overflow='hidden';")
